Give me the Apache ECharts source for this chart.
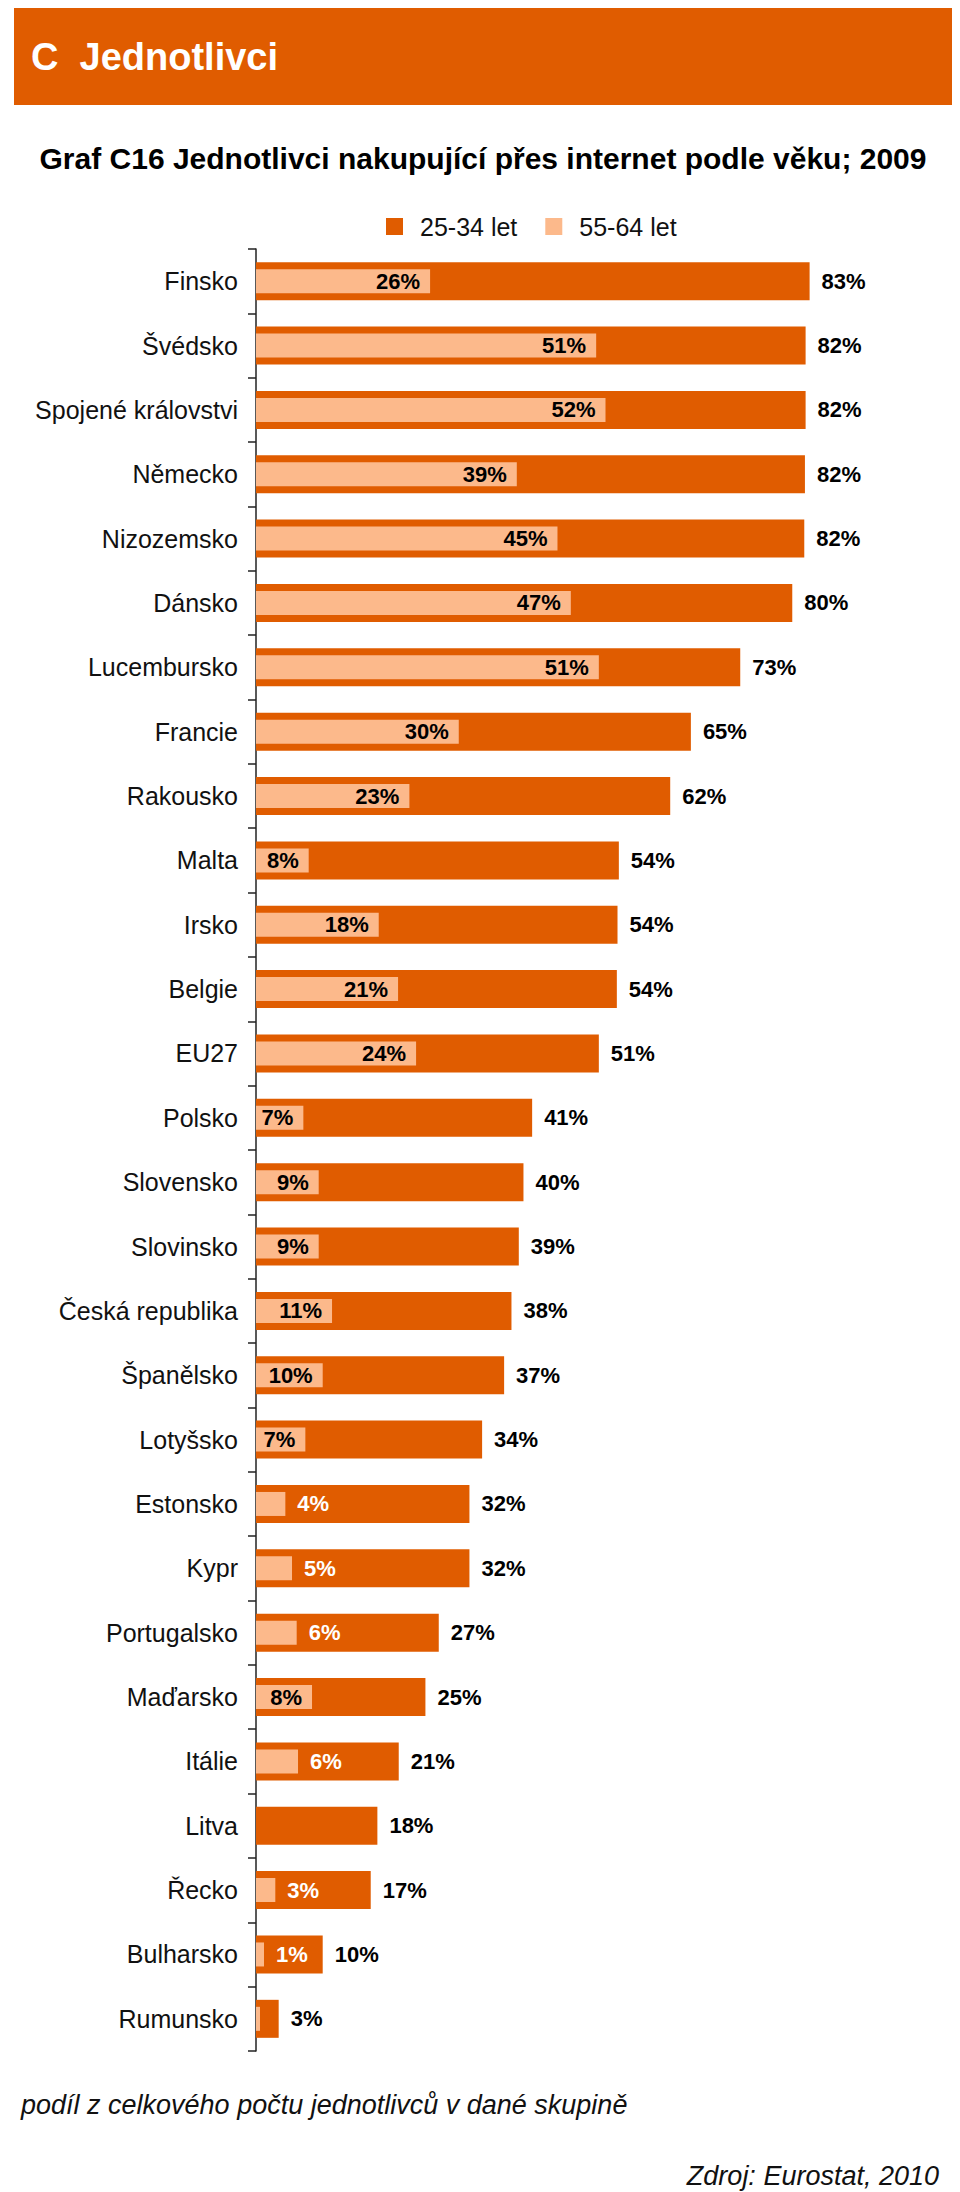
<!DOCTYPE html>
<html>
<head>
<meta charset="utf-8">
<script src="https://cdn.jsdelivr.net/npm/echarts@6/dist/echarts.min.js"></script>
<style>
html,body{margin:0;padding:0;background:#fff;}
#chart{width:960px;height:2192px;}
</style>
</head>
<body>
<div id="chart"></div>
<script>
const categories = ["Finsko","Švédsko","Spojené královstvi","Německo","Nizozemsko","Dánsko","Lucembursko","Francie","Rakousko","Malta","Irsko","Belgie","EU27","Polsko","Slovensko","Slovinsko","Česká republika","Španělsko","Lotyšsko","Estonsko","Kypr","Portugalsko","Maďarsko","Itálie","Litva","Řecko","Bulharsko","Rumunsko"];
const values2534 = [83.0,82.4,82.4,82.3,82.2,80.4,72.6,65.2,62.1,54.4,54.2,54.1,51.4,41.4,40.1,39.4,38.3,37.2,33.9,32.0,32.0,27.4,25.4,21.4,18.2,17.2,10.0,3.4];
const values5564 = [26.1,51.0,52.4,39.1,45.2,47.2,51.4,30.4,23.0,7.9,18.4,21.3,24.0,7.1,9.4,9.4,11.4,10.0,7.4,4.4,5.4,6.1,8.4,6.3,null,2.9,1.2,0.6];
const seriesNames = ["25-34 let","55-64 let"];
const headerText = "C  Jednotlivci";
const titleText = "Graf C16 Jednotlivci nakupující přes internet podle věku; 2009";
const noteText = "podíl z celkového počtu jednotlivců v dané skupině";
const sourceText = "Zdroj: Eurostat, 2010";

const DARK = '#E05C00';
const LIGHT = '#FCB98B';
const FONT = '"Liberation Sans", Arial, sans-serif';

const chart = echarts.init(document.getElementById('chart'), null, {renderer: 'svg'});

const lightData = values5564.map(v => {
  if (v != null && v < 7) {
    return {value: v, label: {position: 'right', color: '#fff', distance: 12}};
  }
  return {value: v};
});

const option = {
  animation: false,
  textStyle: {fontFamily: FONT},
  legend: {
    data: seriesNames,
    left: 381,
    top: 209,
    icon: 'rect',
    itemWidth: 17,
    itemHeight: 17,
    itemGap: 28,
    textStyle: {fontSize: 25, color: '#111', fontFamily: FONT, padding: [0,0,0,12]}
  },
  grid: {left: 256, top: 249, width: 667, height: 1802, containLabel: false},
  xAxis: {
    type: 'value', min: 0, max: 100, show: false
  },
  yAxis: [
    {
      type: 'category', data: categories, inverse: true,
      axisLine: {show: true, lineStyle: {color: '#222', width: 1.5}},
      axisTick: {show: true, length: 8, lineStyle: {color: '#222', width: 1.5}},
      axisLabel: {fontSize: 25, color: '#111', margin: 18, fontFamily: FONT}
    },
    {
      type: 'category', data: categories, inverse: true, show: false
    }
  ],
  series: [
    {
      name: seriesNames[0], type: 'bar', yAxisIndex: 0, data: values2534,
      barWidth: 38,
      itemStyle: {color: DARK},
      label: {show: true, position: 'right', distance: 12, fontSize: 22, fontWeight: 'bold', color: '#000', fontFamily: FONT,
        formatter: p => Math.round(p.value) + '%'}
    },
    {
      name: seriesNames[1], type: 'bar', yAxisIndex: 1, data: lightData,
      barWidth: 24,
      itemStyle: {color: LIGHT},
      label: {show: true, position: 'insideRight', distance: 10, fontSize: 22, fontWeight: 'bold', color: '#000', fontFamily: FONT,
        formatter: p => (p.value == null || p.value < 1) ? '' : Math.round(p.value) + '%'}
    }
  ],
  graphic: [
    {type: 'rect', shape: {x: 14, y: 8, width: 938, height: 97}, style: {fill: DARK}, silent: true},
    {type: 'text', x: 31, y: 57, style: {text: headerText, fill: '#fff', fontSize: 38, fontWeight: 'bold', fontFamily: FONT, verticalAlign: 'middle', align: 'left'}},
    {type: 'text', x: 483, y: 158, style: {text: titleText, fill: '#000', fontSize: 30, fontWeight: 'bold', fontFamily: FONT, verticalAlign: 'middle', align: 'center'}},
    {type: 'text', x: 21, y: 2105, style: {text: noteText, fill: '#111', fontSize: 27, fontStyle: 'italic', fontFamily: FONT, verticalAlign: 'middle', align: 'left'}},
    {type: 'text', x: 939, y: 2176, style: {text: sourceText, fill: '#111', fontSize: 27, fontStyle: 'italic', fontFamily: FONT, verticalAlign: 'middle', align: 'right'}}
  ]
};
chart.setOption(option);
</script>
</body>
</html>
